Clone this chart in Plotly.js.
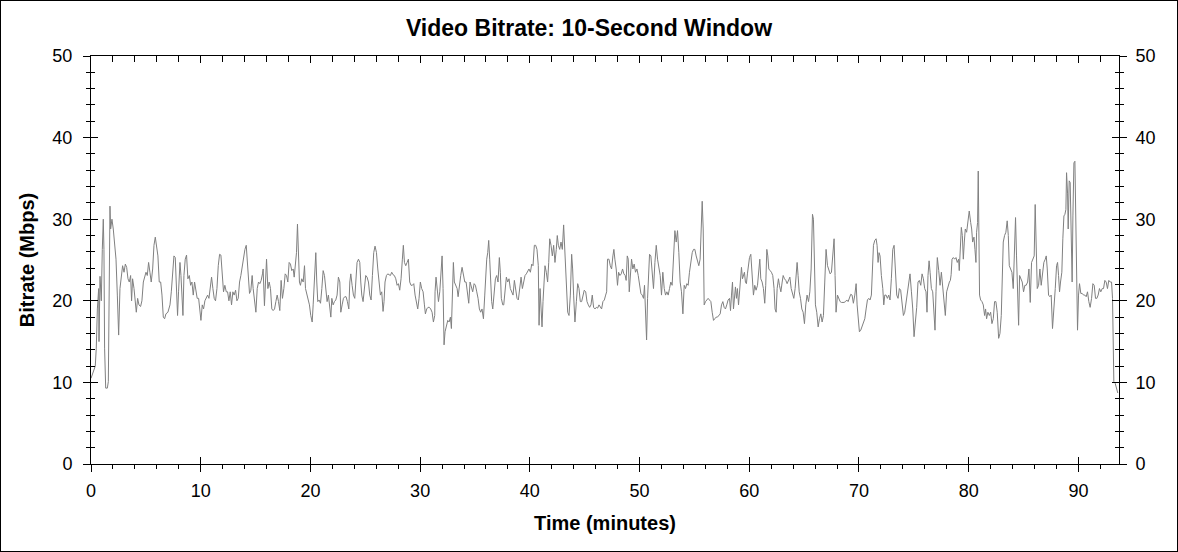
<!DOCTYPE html>
<html>
<head>
<meta charset="utf-8">
<script src="https://cdn.plot.ly/plotly-3.0.1.min.js"></script>
<style>
  html, body { margin: 0; padding: 0; background: #fff; }
  #wrap { position: relative; width: 1178px; height: 552px; }
  #chart { width: 1178px; height: 552px; }
  #frame { position: absolute; left: 0; top: 0; width: 1178px; height: 552px; box-sizing: border-box; border: 1px solid #000; pointer-events: none; }
</style>
</head>
<body>
<div id="wrap"><div id="chart"></div><div id="frame"></div></div>
<script>
// ---- data ----
const timeMin = [
0.00,0.27,0.39,0.48,0.58,0.70,0.73,0.82,0.94,1.03,1.12,1.18,1.24,1.34,1.49,1.58,1.64,1.73,1.79,1.91,
2.03,2.16,2.28,2.40,2.52,2.64,2.76,2.88,3.01,3.13,3.25,3.37,3.49,3.61,3.70,3.79,3.92,4.04,4.13,4.25,
4.37,4.52,4.64,4.77,4.89,5.01,5.13,5.25,5.37,5.49,5.62,5.74,5.86,5.98,6.10,6.22,6.35,6.47,6.59,6.71,
6.83,7.01,7.20,7.32,7.44,7.56,7.68,7.80,7.89,7.98,8.11,8.20,8.29,8.38,8.47,8.59,8.71,8.83,8.96,9.08,
9.20,9.32,9.44,9.56,9.68,9.81,9.93,10.02,10.14,10.26,10.38,10.50,10.63,10.75,10.87,10.99,11.11,11.23,11.35,11.48,
11.60,11.72,11.84,11.96,12.08,12.20,12.33,12.45,12.57,12.69,12.81,12.93,13.05,13.18,13.30,13.42,13.54,13.66,13.78,13.90,
14.03,14.15,14.24,14.33,14.45,14.57,14.69,14.78,14.91,15.03,15.15,15.27,15.39,15.51,15.63,
15.69,15.81,16.00,16.12,16.24,16.36,16.48,16.60,16.73,16.85,16.97,17.09,17.21,17.33,17.45,17.58,17.70,17.82,17.94,18.06,
18.18,18.30,18.43,18.52,18.61,18.73,18.82,18.91,19.00,19.09,19.21,19.34,19.46,19.55,19.67,19.79,19.91,20.03,20.16,20.25,
20.37,20.49,20.58,20.67,20.79,20.92,21.04,21.16,21.28,21.40,21.52,21.64,21.77,21.86,21.95,22.07,22.19,22.31,22.43,22.55,
22.68,22.77,22.89,23.01,23.13,23.25,23.37,23.50,23.59,23.68,23.80,23.92,24.04,24.16,24.25,24.38,24.50,24.59,24.68,24.80,
24.92,25.04,25.16,25.29,25.41,25.53,25.65,25.77,25.89,26.02,26.14,26.26,26.38,26.50,26.62,26.71,26.80,26.93,27.05,27.17,
27.29,27.41,27.53,27.65,27.78,27.90,28.02,28.14,28.26,28.38,28.47,28.57,28.69,28.81,28.93,29.05,29.17,29.29,29.42,29.54,
29.66,29.78,29.90,30.02,30.14,30.27,30.39,30.48,30.60,30.72,30.84,30.96,31.09,31.21,31.33,
31.36,31.45,31.58,31.67,31.79,31.91,32.00,32.09,32.18,32.27,32.40,32.52,32.64,32.76,32.85,32.94,33.03,33.12,33.25,33.37,
33.46,33.58,33.70,33.82,33.94,34.07,34.19,34.31,34.43,34.55,34.67,34.79,34.92,35.04,35.16,35.28,35.40,35.52,35.64,35.77,
35.89,35.98,36.07,36.16,36.25,36.34,36.43,36.52,36.62,36.74,36.86,36.98,37.10,37.22,37.31,37.40,37.53,37.62,37.74,37.86,
37.98,38.10,38.22,38.35,38.47,38.59,38.71,38.83,38.95,39.07,39.20,39.32,39.44,39.56,39.68,39.80,39.92,40.05,40.17,40.29,
40.41,40.53,40.65,40.77,40.84,40.93,41.02,41.11,41.20,41.29,41.38,41.50,41.62,41.72,41.81,41.93,42.05,42.17,42.29,42.41,
42.50,42.60,42.72,42.84,42.96,43.08,43.17,43.26,43.36,43.45,43.57,43.69,43.81,43.90,43.99,44.11,44.24,44.36,44.48,44.60,
44.72,44.84,44.96,45.09,45.21,45.33,45.45,45.57,45.69,45.81,45.94,46.06,46.18,46.30,46.42,46.54,46.66,46.79,46.91,47.00,
47.08,47.21,47.33,47.45,47.57,47.66,47.75,47.87,47.99,48.09,48.21,48.33,48.45,48.57,48.69,48.78,48.88,48.97,49.06,49.15,
49.27,49.39,49.51,49.63,49.76,49.88,50.00,50.12,50.24,50.36,50.45,50.55,50.64,50.73,50.82,50.91,51.03,51.15,51.27,51.40,
51.52,51.64,51.76,51.88,52.00,52.12,52.25,52.37,52.49,52.61,52.73,52.85,52.97,53.10,53.22,53.34,53.46,53.58,53.70,53.82,
53.95,54.07,54.19,54.31,54.43,54.55,54.67,54.80,54.92,55.04,55.16,55.28,55.40,55.52,55.61,55.71,55.80,55.89,56.01,56.13,
56.25,56.37,56.50,56.62,56.74,56.86,56.98,57.10,57.22,57.35,57.47,57.59,57.71,57.83,57.95,58.07,58.20,58.29,58.38,58.47,
58.56,58.65,58.74,58.83,58.92,59.02,59.11,59.20,59.29,59.38,59.47,59.56,59.65,59.74,59.83,59.93,60.02,60.14,60.26,60.38,
60.50,60.62,60.75,60.87,60.96,61.05,61.17,61.29,61.41,61.50,61.60,61.69,61.78,61.90,62.02,62.14,62.26,62.35,62.45,62.54,62.66,
62.75,62.88,63.00,63.09,63.21,63.33,63.45,63.57,63.70,63.82,63.94,64.06,64.18,64.27,64.36,64.45,64.55,64.67,64.79,64.91,
65.03,65.15,65.27,65.40,65.52,65.64,65.76,65.85,65.94,66.03,66.15,66.28,66.40,66.52,66.64,66.76,66.88,67.00,67.13,67.25,
67.37,67.49,67.61,67.73,67.82,67.91,68.04,68.16,68.28,68.40,68.52,68.64,68.77,68.89,69.01,69.13,69.25,69.37,69.49,69.62,
69.74,69.83,69.92,70.04,70.16,70.28,70.40,70.53,70.65,70.77,70.89,71.01,71.13,71.22,71.32,71.44,71.56,71.65,71.74,71.83,
71.92,72.04,72.17,72.26,72.35,72.47,72.59,72.71,72.83,72.95,73.08,73.20,73.32,73.44,73.56,73.68,73.80,73.93,74.05,74.17,
74.29,74.41,74.53,74.65,74.78,74.90,75.02,75.14,75.26,75.38,75.50,75.63,75.75,75.87,75.99,76.11,76.20,76.29,76.39,76.48,
76.60,76.72,76.84,76.93,77.02,77.14,77.27,77.39,77.51,77.63,77.75,77.87,77.99,78.12,78.24,78.33,
78.40,78.48,78.60,78.72,78.84,78.96,79.08,79.14,79.23,79.33,79.42,79.51,79.60,79.69,79.81,79.93,80.05,80.18,80.27,80.36,
80.48,80.57,80.66,80.72,80.81,80.87,80.93,80.99,81.09,81.21,81.33,81.45,81.54,81.63,81.75,81.88,82.00,82.12,82.24,82.36,
82.48,82.60,82.73,82.85,82.97,83.06,83.15,83.27,83.39,83.51,83.61,83.70,83.82,83.94,84.06,84.18,84.27,84.36,84.46,84.55,
84.64,84.76,84.88,85.00,85.12,85.24,85.37,85.49,85.61,85.73,85.85,85.97,86.06,86.16,86.25,86.37,86.49,86.61,86.73,86.85,
86.98,87.07,87.16,87.28,87.40,87.52,87.64,87.76,87.89,88.01,88.10,88.19,88.28,88.37,88.49,88.58,88.68,88.77,88.86,88.92,
89.01,89.07,89.16,89.25,89.34,89.43,89.50,89.59,89.68,89.77,89.86,89.92,90.01,90.10,90.22,90.35,90.47,90.59,90.71,90.83,
90.95,91.07,91.20,91.32,91.44,91.56,91.68,91.80,91.92,92.04,92.17,92.29,92.41,92.53,92.65,92.77,92.89,93.02,93.11,93.17,
93.23,93.35,93.47,93.59
];
const bitrateMbps = [
10.5,11.5,12.0,14.2,19.0,21.5,15.0,23.0,20.0,26.3,30.0,26.3,14.2,9.3,9.3,10.1,20.3,31.6,28.8,30.0,
28.8,26.3,25.1,20.7,15.8,21.5,23.1,24.3,23.5,24.5,24.1,22.7,22.3,23.1,20.0,22.7,21.5,20.0,18.6,20.3,
19.5,19.3,20.0,22.3,22.9,23.5,23.1,24.7,23.5,22.3,23.9,26.8,27.8,26.8,25.5,22.3,22.3,20.7,18.0,17.8,
18.4,18.6,19.5,21.1,23.1,25.5,25.3,21.5,18.2,21.1,24.7,23.1,19.5,18.2,23.1,25.1,25.6,22.7,23.1,21.9,
22.3,20.7,22.3,21.5,20.3,20.3,19.0,17.6,19.5,19.0,20.0,20.3,20.7,20.3,21.9,22.9,21.5,20.3,20.0,21.5,
24.3,25.7,25.6,23.1,21.1,21.9,21.1,21.1,20.0,21.1,19.5,21.1,20.7,21.3,20.0,20.3,22.3,23.1,24.3,25.6,
26.3,26.8,25.1,22.3,20.9,21.3,23.1,21.5,19.5,18.6,21.5,22.3,22.1,22.5,23.3,
23.9,19.4,25.1,21.5,22.3,21.5,19.0,18.8,19.0,19.9,20.7,19.9,18.8,22.5,20.3,21.5,23.3,23.1,22.3,24.7,
24.5,23.7,23.9,22.9,24.7,25.9,29.4,26.8,22.3,21.9,22.7,22.3,24.3,21.5,20.7,20.3,19.5,18.2,17.4,19.5,
23.1,25.9,22.3,19.9,20.1,19.7,21.5,23.7,23.1,21.1,19.9,20.7,19.2,18.0,20.3,19.5,19.9,20.1,20.7,22.9,
22.3,18.6,19.5,20.3,20.5,20.5,19.9,19.0,22.3,23.3,21.9,20.7,20.3,22.3,24.7,25.1,24.7,22.3,20.7,19.9,
21.5,23.1,22.9,22.3,20.7,20.1,23.1,25.9,26.7,25.9,23.9,22.3,20.7,21.1,18.7,19.9,22.3,23.1,23.3,23.2,
23.1,23.5,23.2,23.1,22.7,21.9,22.1,21.3,22.7,25.1,26.8,24.7,24.3,24.7,25.1,22.3,21.9,21.9,22.1,20.7,
19.9,19.0,20.3,22.3,21.5,21.1,19.5,18.4,19.0,19.2,19.2,19.0,18.6,17.4,18.2,
21.1,22.9,21.5,19.9,21.1,23.5,25.5,21.5,14.6,16.2,17.2,17.6,17.4,18.0,16.6,19.9,24.7,22.3,21.9,21.5,
20.5,22.3,23.1,24.1,23.1,22.3,22.3,21.1,19.7,22.3,21.5,21.1,22.1,21.9,21.1,20.3,19.0,18.6,19.0,17.8,
20.7,23.5,25.1,25.9,27.4,25.1,22.3,19.9,19.0,20.7,22.7,23.1,22.3,25.3,23.5,20.3,19.5,19.5,21.5,22.9,
22.3,22.7,21.5,21.1,20.7,22.5,21.5,20.3,20.1,21.5,22.9,21.5,22.5,23.1,23.3,23.7,23.9,23.5,24.5,24.3,
26.8,26.8,26.3,24.3,17.0,21.5,19.0,16.8,19.9,22.3,24.3,23.5,22.3,24.7,27.6,26.8,25.5,26.8,24.7,26.3,
28.0,26.8,26.3,27.2,26.3,29.3,26.3,23.1,20.7,18.6,18.2,20.7,25.7,23.9,20.7,17.4,19.9,22.1,21.5,19.9,
19.9,20.7,21.3,21.1,19.9,19.5,19.2,19.5,20.7,19.2,19.0,19.2,19.1,19.5,19.2,19.0,19.9,20.1,20.7,21.1,
25.1,25.1,24.3,23.9,25.5,26.3,25.1,23.9,21.9,23.5,23.1,23.3,23.9,23.3,23.1,22.5,25.5,25.1,21.1,23.1,
25.1,23.9,24.5,23.5,23.9,23.1,21.9,20.9,20.7,20.3,21.9,17.8,15.2,20.3,23.1,25.7,25.5,23.1,21.5,24.7,
26.8,25.1,24.3,23.1,20.7,23.5,21.5,20.7,21.1,20.7,21.5,22.3,21.9,24.7,28.6,27.2,28.6,25.9,22.3,21.1,
18.4,21.9,21.5,22.1,21.9,23.5,24.7,25.9,26.3,26.3,25.5,24.7,24.3,25.1,28.8,32.2,28.8,19.5,19.9,20.1,
20.3,20.1,19.9,18.6,17.6,17.8,18.0,18.0,18.2,18.4,19.5,19.9,19.2,19.0,19.5,20.1,20.3,18.8,20.7,22.3,
19.0,20.7,21.7,20.3,21.5,19.5,21.5,22.5,24.1,22.7,23.1,23.5,22.3,22.1,23.3,24.5,25.3,25.7,23.1,20.7,
21.9,21.3,21.9,24.5,25.1,22.7,22.3,21.5,19.7,21.9,26.3,25.5,23.9,23.7,23.5,23.1,21.5,19.0,18.6,21.5,22.7,
21.9,21.1,22.3,23.1,22.7,22.5,22.1,22.5,22.9,21.5,20.7,20.3,21.5,23.1,24.7,23.1,21.1,20.3,19.0,18.6,
17.2,19.5,20.7,19.9,21.1,23.9,30.6,30.0,25.5,19.5,18.6,16.8,17.8,18.4,17.4,18.2,22.3,26.3,24.3,23.7,
23.3,23.5,25.5,27.6,23.1,18.6,20.7,20.3,19.9,19.8,19.8,19.8,19.9,20.1,19.9,20.3,20.8,20.7,19.7,20.7,
22.1,19.5,17.4,16.2,16.4,16.8,17.4,17.8,19.0,20.1,20.3,20.1,20.7,23.1,26.8,27.4,27.6,26.8,24.7,25.9,
25.5,23.1,21.5,19.5,20.7,20.7,20.3,20.7,20.1,22.7,26.3,26.8,23.1,20.7,20.3,21.5,21.3,19.2,18.2,18.6,
19.9,21.1,22.3,23.3,21.1,19.0,15.6,17.4,19.2,22.3,22.5,21.9,23.3,22.7,21.5,21.1,18.6,23.1,24.9,23.5,
21.5,21.1,18.6,16.4,21.1,25.3,23.7,21.9,23.5,21.5,19.5,18.2,21.1,21.9,22.3,22.5,
23.2,25.1,25.3,25.1,25.3,24.7,25.1,23.7,26.3,29.0,28.0,25.1,27.2,28.8,28.4,29.6,31.0,29.6,28.8,27.2,
27.8,26.3,24.7,28.4,29.6,35.9,29.2,20.7,20.1,19.9,19.5,18.2,19.0,17.8,18.6,18.2,18.6,17.2,17.8,19.9,
19.9,18.6,15.4,16.0,18.2,23.9,27.2,28.0,28.4,29.8,28.0,24.3,23.9,23.5,21.5,26.8,30.2,25.5,21.1,17.0,
23.1,22.7,22.3,21.1,21.9,21.9,22.3,23.9,19.8,24.7,25.1,25.5,31.8,25.5,21.5,21.9,23.9,21.9,23.1,24.7,
25.1,25.5,23.9,20.7,20.5,20.7,16.6,18.6,21.5,24.3,24.7,23.1,21.1,22.3,23.5,27.6,30.4,30.6,31.2,35.7,
33.2,28.8,34.7,34.5,25.9,22.3,30.4,36.9,37.1,28.4,20.7,16.4,20.7,22.1,20.9,20.9,20.7,20.7,20.5,21.1,
19.9,19.2,20.3,22.1,21.9,20.3,20.3,20.7,21.5,21.1,21.5,21.5,22.5,22.3,21.5,22.5,22.3,22.3,20.3,14.2,
10.1,9.9,9.3,8.7
];
const xTickVals = [0, 10, 20, 30, 40, 50, 60, 70, 80, 90];
const xTickText = ['0', '10', '20', '30', '40', '50', '60', '70', '80', '90'];
const yTickVals = [0, 10, 20, 30, 40, 50];
const yTickText = ['0', '10', '20', '30', '40', '50'];
const xRange = [0, 93.7];
const yRange = [0, 50];

const FONT = 'Arial, "Liberation Sans", sans-serif';
const black = '#000000';

const baseAxis = {
  showgrid: false, zeroline: false, fixedrange: true,
  tickcolor: black, tickwidth: 1, linecolor: black, linewidth: 1,
  tickfont: {family: FONT, size: 18, color: black}
};
const minorOut = {ticks: 'outside', ticklen: 4, tickmode: 'linear', tick0: 0, dtick: 2, tickcolor: black, tickwidth: 1, showgrid: false};
const minorIn = {ticks: 'inside', ticklen: 4, tickmode: 'linear', tick0: 0, dtick: 2, tickcolor: black, tickwidth: 1, showgrid: false};

const layout = {
  width: 1178, height: 552,
  margin: {l: 91, r: 59, t: 56, b: 88, pad: 0},
  paper_bgcolor: '#ffffff', plot_bgcolor: '#ffffff',
  showlegend: false,
  font: {family: FONT, color: black},
  title: {
    text: '<b>Video Bitrate: 10-Second Window</b>',
    font: {family: FONT, size: 23, color: black},
    x: 0.5, xref: 'container', xanchor: 'center',
    y: 1 - 28 / 552, yref: 'container', yanchor: 'middle'
  },
  xaxis: Object.assign({}, baseAxis, {
    range: xRange, tickmode: 'array', tickvals: xTickVals, ticktext: xTickText,
    ticks: 'outside', ticklen: 7, showline: true, mirror: false, ticklabelstandoff: 3,
    minor: minorOut,
    title: {text: '<b>Time (minutes)</b>', font: {family: FONT, size: 20, color: black}, standoff: 16}
  }),
  xaxis2: Object.assign({}, baseAxis, {
    overlaying: 'x', anchor: 'y', side: 'bottom',
    range: xRange, tickmode: 'array', tickvals: xTickVals, ticktext: xTickText,
    ticks: 'inside', ticklen: 7, showline: false, showticklabels: false
  }),
  xaxis3: Object.assign({}, baseAxis, {
    overlaying: 'x', anchor: 'y', side: 'top',
    range: xRange, tickmode: 'array', tickvals: xTickVals, ticktext: xTickText,
    ticks: 'inside', ticklen: 7, showline: true, showticklabels: false,
    minor: Object.assign({}, minorIn, {ticklen: 6})
  }),
  yaxis: Object.assign({}, baseAxis, {
    range: yRange, tickmode: 'array', tickvals: yTickVals, ticktext: yTickText,
    ticks: 'outside', ticklen: 7, showline: true, mirror: false, ticklabelstandoff: 7,
    minor: minorOut,
    title: {text: '<b>Bitrate (Mbps)</b>', font: {family: FONT, size: 20, color: black}, standoff: 12}
  }),
  yaxis2: Object.assign({}, baseAxis, {
    overlaying: 'y', anchor: 'x', side: 'left',
    range: yRange, tickmode: 'array', tickvals: yTickVals, ticktext: yTickText,
    ticks: 'inside', ticklen: 7, showline: false, showticklabels: false,
    minor: minorIn
  }),
  yaxis3: Object.assign({}, baseAxis, {
    overlaying: 'y', anchor: 'x', side: 'right',
    range: yRange, tickmode: 'array', tickvals: yTickVals, ticktext: yTickText,
    ticks: 'outside', ticklen: 7, showline: true, showticklabels: true, ticklabelstandoff: 5,
    minor: minorOut
  }),
  yaxis4: Object.assign({}, baseAxis, {
    overlaying: 'y', anchor: 'x', side: 'right',
    range: yRange, tickmode: 'array', tickvals: yTickVals, ticktext: yTickText,
    ticks: 'inside', ticklen: 7, showline: false, showticklabels: false,
    minor: minorIn
  })
};

// main visible line
const traces = [{
  type: 'scatter', mode: 'lines',
  x: timeMin, y: bitrateMbps,
  xaxis: 'x', yaxis: 'y',
  line: {color: '#808080', width: 1},
  hoverinfo: 'skip'
}];
// invisible companions so that the overlaid tick axes (inside ticks, top and right frame) are drawn
[['x2', 'y2'], ['x3', 'y3'], ['x2', 'y4']].forEach(function (p) {
  traces.push({
    type: 'scatter', mode: 'lines',
    x: timeMin, y: bitrateMbps,
    xaxis: p[0], yaxis: p[1],
    line: {color: 'rgba(0,0,0,0)', width: 0},
    opacity: 0, hoverinfo: 'skip', showlegend: false
  });
});

Plotly.newPlot('chart', traces, layout, {staticPlot: true, displayModeBar: false});
</script>
</body>
</html>
